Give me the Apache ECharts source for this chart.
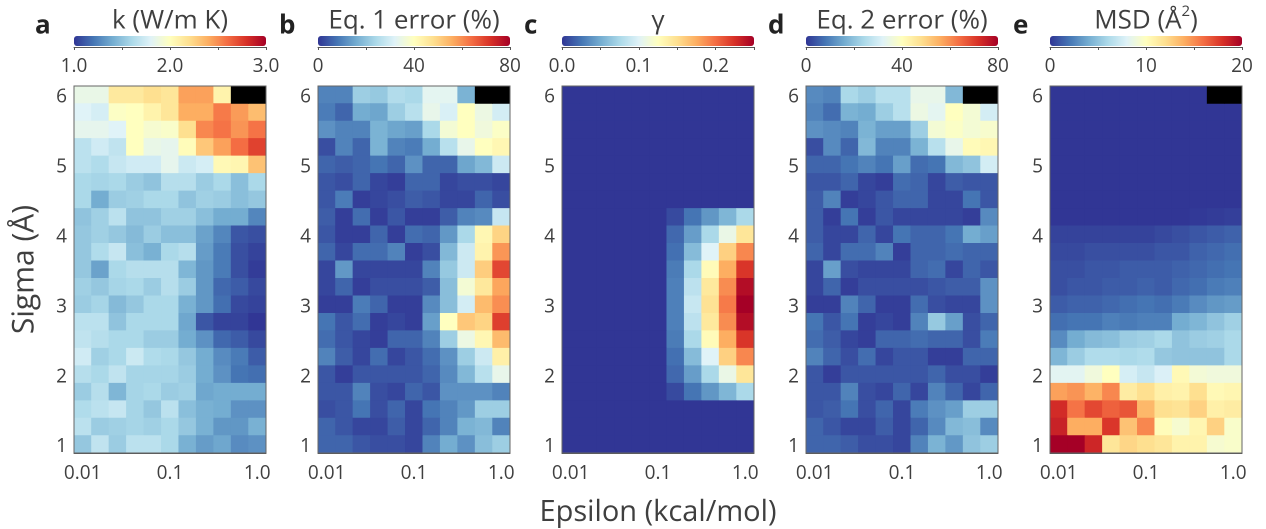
<!DOCTYPE html>
<html><head><meta charset="utf-8">
<style>html,body{margin:0;padding:0;background:#fff}#c{width:1266px;height:529px;filter:blur(0.5px)}</style>
<script src="https://cdn.jsdelivr.net/npm/echarts@6/dist/echarts.min.js"></script>
</head><body><div id="c"></div>
<script>
const epsilon = ['0.01','0.016','0.025','0.04','0.063','0.1','0.16','0.25','0.4','0.63','1.0'];
const sigma = ['1','1.25','1.5','1.75','2','2.25','2.5','2.75','3','3.25','3.5','3.75','4','4.25','4.5','4.75','5','5.25','5.5','5.75','6'];
const rampColors = ['#313695','#4575b4','#74add1','#abd9e9','#e0f3f8','#ffffbf','#fee090','#fdae61','#f46d43','#d73027','#a50026'];
const N = null;
// Each table is listed from sigma = 6 (top row) down to sigma = 1 (bottom row)
const kValues = [
[1.86,1.86,2.14,2.14,2.20,2.16,2.44,2.44,2.08,N,N],
[1.80,1.76,1.98,2.00,2.08,2.16,2.40,2.40,2.56,2.46,2.34],
[1.84,1.84,1.80,2.00,1.94,1.96,2.20,2.52,2.58,2.48,2.58],
[1.66,1.74,1.68,2.00,1.86,1.84,2.02,2.30,2.44,2.60,2.74],
[1.66,1.62,1.70,1.74,1.74,1.84,1.72,1.76,2.04,2.06,2.32],
[1.60,1.58,1.60,1.54,1.50,1.64,1.64,1.54,1.60,1.48,1.60],
[1.60,1.40,1.54,1.56,1.60,1.60,1.50,1.56,1.54,1.48,1.52],
[1.50,1.56,1.66,1.50,1.50,1.56,1.56,1.48,1.40,1.40,1.26],
[1.52,1.56,1.52,1.46,1.54,1.48,1.48,1.36,1.26,1.10,1.08],
[1.52,1.62,1.70,1.48,1.42,1.60,1.64,1.34,1.22,1.08,1.04],
[1.52,1.36,1.60,1.64,1.64,1.64,1.44,1.32,1.22,1.08,1.02],
[1.56,1.52,1.58,1.60,1.54,1.64,1.54,1.32,1.16,1.12,1.06],
[1.54,1.58,1.46,1.52,1.60,1.60,1.42,1.32,1.18,1.06,1.04],
[1.66,1.66,1.50,1.60,1.60,1.60,1.38,1.10,1.04,1.04,1.00],
[1.68,1.64,1.60,1.60,1.54,1.54,1.40,1.30,1.16,1.12,1.06],
[1.74,1.56,1.60,1.72,1.62,1.60,1.52,1.40,1.28,1.22,1.12],
[1.64,1.60,1.68,1.58,1.58,1.58,1.54,1.40,1.30,1.20,1.18],
[1.54,1.64,1.44,1.58,1.60,1.54,1.56,1.38,1.40,1.40,1.40],
[1.62,1.66,1.70,1.58,1.52,1.66,1.48,1.42,1.40,1.30,1.30],
[1.66,1.54,1.56,1.58,1.56,1.60,1.52,1.42,1.32,1.32,1.42],
[1.52,1.68,1.54,1.66,1.66,1.60,1.42,1.34,1.38,1.28,1.30]];
const eq1Error = [
[10,10,22,21,25,24,33,33,17,N,N],
[9,6,16,15,22,26,34,31,40,35,30],
[12,10,10,17,15,14,24,37,40,36,39],
[3,10,6,17,10,9,16,26,34,40,42],
[6,5,6,8,6,12,6,6,15,18,29],
[4,3,6,2,1,6,6,2,3,3,2],
[4,9,1,2,3,5,4,2,2,6,3],
[5,1,7,1,4,1,1,5,10,11,28],
[4,1,1,6,1,7,6,13,24,42,50],
[6,2,7,7,10,1,3,18,29,43,59],
[2,13,2,2,2,2,10,21,29,51,69],
[2,6,1,3,3,3,5,19,37,46,57],
[1,1,9,6,1,1,11,19,30,54,60],
[8,4,7,1,2,1,14,40,52,50,70],
[7,4,2,1,6,6,10,22,35,42,54],
[10,5,2,7,2,4,7,12,22,29,44],
[4,1,4,4,4,4,6,11,18,26,34],
[4,4,10,3,2,6,4,12,12,12,10],
[3,4,8,3,6,2,8,10,13,22,22],
[6,4,2,2,5,2,6,10,17,18,10],
[6,6,4,3,3,2,10,16,12,19,22]];
const gammaValues = [
[0,0,0,0,0,0,0,0,0,0,0],
[0,0,0,0,0,0,0,0,0,0,0],
[0,0,0,0,0,0,0,0,0,0,0],
[0,0,0,0,0,0,0,0,0,0,0],
[0,0,0,0,0,0,0,0,0,0,0],
[0,0,0,0,0,0,0,0,0,0,0],
[0,0,0,0,0,0,0,0,0,0,0],
[0,0,0,0,0,0,.008,.025,.04,.055,.075],
[0,0,0,0,0,0,.02,.043,.075,.108,.145],
[0,0,0,0,0,0,.023,.058,.1,.158,.19],
[0,0,0,0,0,0,.028,.075,.128,.175,.223],
[0,0,0,0,0,0,.03,.083,.143,.188,.243],
[0,0,0,0,0,0,.03,.088,.148,.195,.25],
[0,0,0,0,0,0,.03,.083,.143,.188,.243],
[0,0,0,0,0,0,.028,.075,.128,.175,.223],
[0,0,0,0,0,0,.023,.058,.1,.158,.19],
[0,0,0,0,0,0,.02,.043,.075,.108,.145],
[0,0,0,0,0,0,.008,.025,.04,.055,.075],
[0,0,0,0,0,0,0,0,0,0,0],
[0,0,0,0,0,0,0,0,0,0,0],
[0,0,0,0,0,0,0,0,0,0,0]];
const eq2Error = [
[11,10,24,22,26,26,34,34,18,N,N],
[10,7,17,16,22,26,35,33,40,37,30],
[12,11,10,17,14,14,22,37,39,37,38],
[3,11,6,18,10,10,17,26,34,41,42],
[6,6,8,10,8,14,7,8,18,20,30],
[4,4,6,2,1,7,6,2,5,4,4],
[5,10,1,2,4,6,6,2,2,8,4],
[5,1,8,1,4,2,2,2,2,1,11],
[5,2,2,6,2,8,6,6,8,16,14],
[6,2,7,7,10,1,6,6,7,6,6],
[2,14,3,2,2,2,6,7,2,6,4],
[2,6,1,3,3,3,3,4,5,5,12],
[1,1,10,6,1,1,7,3,2,2,12],
[8,4,8,1,2,1,10,21,14,3,6],
[7,5,2,1,6,6,7,6,6,3,9],
[10,6,3,7,2,4,4,1,1,6,6],
[4,1,4,4,4,4,4,6,3,3,1],
[4,4,10,3,2,6,2,10,6,2,6],
[4,5,8,3,6,2,9,12,14,22,22],
[6,4,2,2,5,2,6,11,18,19,11],
[6,6,5,3,3,2,10,17,13,20,22]];
const msdValues = [
[0,0,0,0,0,0,0,0,0,N,N],
[0,0,0,0,0,0,0,0,0,0,0],
[0,0,0,0,0,0,0,0,0,0,0],
[0,0,0,0,0,0,0,0,0,0,0],
[0,0,0,0,0,0,0,0,0,0,0],
[0,0,0,0,0,0,0,0,0,0,0],
[0,0,0,0,0,0,0,0,0,0,0],
[0,0,0,0,0,0,0,0,.1,.2,.3],
[.4,.4,.4,.4,.4,.4,.6,.8,1,1.2,1.4],
[.6,.6,.8,.8,.8,.8,1,1,1.4,1.6,1.8],
[.8,.8,1,1,1.2,1.2,1.2,1.4,1.6,1.8,2],
[.8,1,1,1.2,1.2,1.4,1.2,1.6,1.8,2.2,2.4],
[1.2,1.4,1.4,1.6,1.8,2,1.8,2.2,2.8,3.2,3.4],
[1.8,2,2,2.4,2.2,2.4,2.4,4,4.4,5,5.6],
[2.8,4,4.6,4.8,5.4,5.6,6,5,5.4,5.6,6],
[4.4,5.4,6.2,6.2,6,6.2,5.2,5,5,5,6],
[8.2,8.2,9,10,7.6,7,7.8,10.4,9.2,9,9],
[14.4,14.8,13.8,15.2,11.2,12,11,10.8,12,10.4,10.6],
[18.2,15.8,17.2,16.4,16.8,13.6,12,11.8,12.6,11,11.2],
[18.6,14,14,17.8,13.2,15.2,10.2,9.4,10.6,12.6,9.6],
[20,20,18.4,11.6,12.4,12,11.6,10.8,10.8,9.4,9.6]];

const panelLetters = ['a','b','c','d','e'];
const panelTitles = ['k (W/m K)','Eq. 1 error (%)','γ','Eq. 2 error (%)','MSD (Å{sup|2})'];
const panelTables = [kValues,eq1Error,gammaValues,eq2Error,msdValues];
const barMin = [1,0,0,0,0];
const barMax = [3,80,0.25,80,20];
const barLabels = [['1.0','2.0','3.0'],['0','40','80'],['0.0','0.1','0.2'],['0','40','80'],['0','10','20']];
const barTickStep = [0.5,20,0.05,20,5];
const plotLeft = [74,318,562,806,1050];
const letterLeft = [35,279,524,768,1013];

const FONT = '"Open Sans", Lato, sans-serif';
const TEXT = '#3f3f3f';
const PW = 192, TOP = 86, PH = 367;
const option = {animation:false, backgroundColor:'#fff',
  textStyle:{fontFamily:FONT}, title:[], grid:[], xAxis:[], yAxis:[], series:[], visualMap:[]};

panelTables.forEach((table,p)=>{
  const L = plotLeft[p];
  const g = option.grid.length;
  option.grid.push({left:L, top:TOP, width:PW, height:PH, show:true, borderColor:'#666', borderWidth:1, backgroundColor:'transparent', z:5, outerBoundsMode:'none', containLabel:false});
  option.xAxis.push({type:'category', gridIndex:g, data:epsilon,
    name:p===2?'Epsilon (kcal/mol)':'', nameLocation:'middle', nameGap:45,
    nameTextStyle:{fontSize:29,color:TEXT,fontFamily:FONT},
    axisLine:{lineStyle:{color:'#555'}},
    axisTick:{alignWithLabel:true, length:3, interval:i=>i%5===0, lineStyle:{color:'#555'}},
    axisLabel:{interval:i=>i%5===0, fontSize:19, color:TEXT, margin:11, fontFamily:FONT},
    splitLine:{show:false}});
  option.yAxis.push({type:'category', gridIndex:g, data:sigma,
    name:p===0?'Sigma (Å)':'', nameLocation:'middle', nameGap:34, nameRotate:90,
    nameTextStyle:{fontSize:30,color:TEXT,fontFamily:FONT},
    axisLine:{lineStyle:{color:'#555'}},
    axisTick:{alignWithLabel:true, length:3, interval:i=>i%4===0, lineStyle:{color:'#555'}},
    axisLabel:{interval:i=>i%4===0, color:TEXT, margin:7, fontFamily:FONT, formatter:v=>'{v|'+v+'}',
      rich:{v:{fontSize:19, color:TEXT, fontFamily:FONT, padding:[5,0,0,0]}}},
    splitLine:{show:false}});
  const cells = [], missing = [];
  table.forEach((row,r)=>row.forEach((v,c)=>{
    const y = sigma.length-1-r;
    if (v===null) missing.push([c,y,0]); else cells.push([c,y,v]);
  }));
  const heatIndex = option.series.length;
  option.series.push({type:'heatmap', xAxisIndex:g, yAxisIndex:g, data:cells, silent:true, progressive:0});
  if (missing.length) option.series.push({type:'heatmap', xAxisIndex:g, yAxisIndex:g, data:missing, silent:true, itemStyle:{color:'#000'}});
  option.visualMap.push({type:'continuous', seriesIndex:heatIndex, dimension:2, min:barMin[p], max:barMax[p],
    orient:'horizontal', left:L, top:36, itemWidth:10, itemHeight:PW, padding:0,
    calculable:false, realtime:false, hoverLink:false, showLabel:false, text:null,
    inRange:{color:rampColors}, borderWidth:0});
  const b = option.grid.length;
  option.grid.push({left:L, top:46, width:PW, height:1, show:false, outerBoundsMode:'none'});
  const labels = barLabels[p];
  option.xAxis.push({type:'value', gridIndex:b, min:barMin[p], max:barMax[p], interval:barTickStep[p],
    axisLine:{show:true, onZero:false, lineStyle:{color:'#555'}},
    axisTick:{show:true, length:3, lineStyle:{color:'#555'}},
    axisLabel:{fontSize:19, color:TEXT, margin:10, fontFamily:FONT, showMinLabel:true, showMaxLabel:true, hideOverlap:false,
      formatter:(v,i)=>i%2===0?labels[i/2]:''},
    splitLine:{show:false}});
  option.yAxis.push({type:'value', gridIndex:b, show:false, min:0, max:1});
  option.title.push({text:panelTitles[p], left:L+PW/2, top:4, padding:0, textAlign:'center',
    textStyle:{fontSize:26, lineHeight:34, fontWeight:'normal', color:TEXT, fontFamily:FONT,
      rich:{sup:{fontSize:15, verticalAlign:'top', padding:[0,0,10,0], color:TEXT, fontFamily:FONT}}}});
  option.title.push({text:panelLetters[p], left:letterLeft[p], top:13, padding:0,
    textStyle:{fontSize:26, fontWeight:'bold', color:'#222', fontFamily:FONT}});
});
const chart = echarts.init(document.getElementById('c'),null,{renderer:'canvas',devicePixelRatio:2});
chart.setOption(option);
</script></body></html>
